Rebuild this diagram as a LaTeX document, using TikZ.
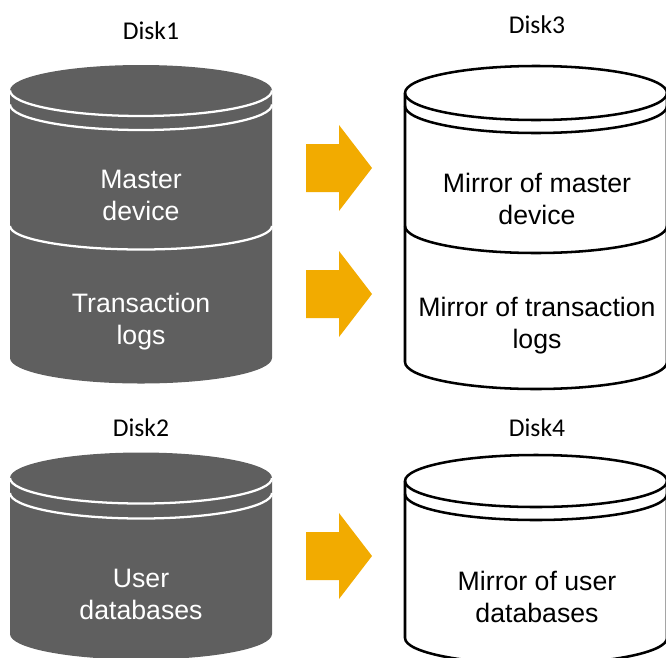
\documentclass[tikz,border=0pt]{standalone}
\usepackage{fontspec}
\setmainfont{Liberation Sans}
\newfontfamily\lblfont{Carlito}
\definecolor{cyl}{HTML}{5F5F5F}
\definecolor{arr}{HTML}{F2AB00}
\tikzset{
  darkcyl/.style={fill=cyl,draw=none},
  darkline/.style={draw=white,line width=1.7pt},
  lightcyl/.style={fill=white,draw=black,line width=1.9pt},
  lightline/.style={draw=black,line width=1.9pt},
  bigarrow/.style={fill=arr,draw=none},
  disklabel/.style={font=\lblfont\fontsize{19.2}{22}\selectfont,text=black,inner sep=0pt},
  darktext/.style={font=\fontsize{20}{24}\selectfont,text=white,align=center,inner sep=0pt},
  lighttext/.style={font=\fontsize{20}{24}\selectfont,text=black,align=center,inner sep=0pt},
}
% #1 body style, #2 line style, #3 left x, #4 top-ellipse centre y, #5 ry, #6 band offset, #7 side bottom y
\newcommand{\cylbody}[7]{%
  \path[#1] (#3,#4) -- (#3,#7) arc[start angle=180,end angle=0,x radius=131,y radius=#5]
    -- (#3+262,#4) arc[start angle=0,end angle=-180,x radius=131,y radius=#5] -- cycle;
  \path[#2] (#3,#4) arc[start angle=180,end angle=0,x radius=131,y radius=#5];
  \path[#2] (#3,#4+#6) arc[start angle=180,end angle=0,x radius=131,y radius=#5];
}
\newcommand{\bigarr}[1]{%
  \path[bigarrow] (306,#1-24) -- (339,#1-24) -- (339,#1-43) -- (372,#1) -- (339,#1+43) -- (339,#1+24) -- (306,#1+24) -- cycle;
}
\begin{document}
\begin{tikzpicture}[x=0.75pt,y=-0.75pt]
\useasboundingbox (0,0) rectangle (666,657);
\begin{scope}
\clip (0,0) rectangle (666,657);
% Disk 1
\cylbody{darkcyl}{darkline}{10}{90.5}{25.5}{14}{358}
\path[darkline] (10,226) arc[start angle=180,end angle=0,x radius=131,y radius=23.5];
% Disk 2
\cylbody{darkcyl}{darkline}{10}{478}{25.5}{15}{634}
% Disk 3
\cylbody{lightcyl}{lightline}{405}{93}{27}{13}{362}
\path[lightline] (405,226) arc[start angle=180,end angle=0,x radius=131,y radius=27];
% Disk 4
\cylbody{lightcyl}{lightline}{405}{481}{26}{13}{638}
% Arrows
\bigarr{168}
\bigarr{294}
\bigarr{556}
\end{scope}
\node[disklabel] (d1) at (151,31) {Disk1};
\node[disklabel] (d2) at (141,428) {Disk2};
\node[disklabel] (d3) at (537,25) {Disk3};
\node[disklabel] (d4) at (537,428) {Disk4};
\node[darktext] (t1) at (141,195) {Master\\device};
\node[darktext] (t2) at (141,322) {Transaction\\logs};
\node[darktext] (t3) at (141,594) {User\\databases};
\node[lighttext] (t4) at (537,199) {Mirror of master\\device};
\node[lighttext] (t5) at (537,326) {Mirror of transaction\\logs};
\node[lighttext] (t6) at (537,597) {Mirror of user\\databases};
\end{tikzpicture}
\end{document}
